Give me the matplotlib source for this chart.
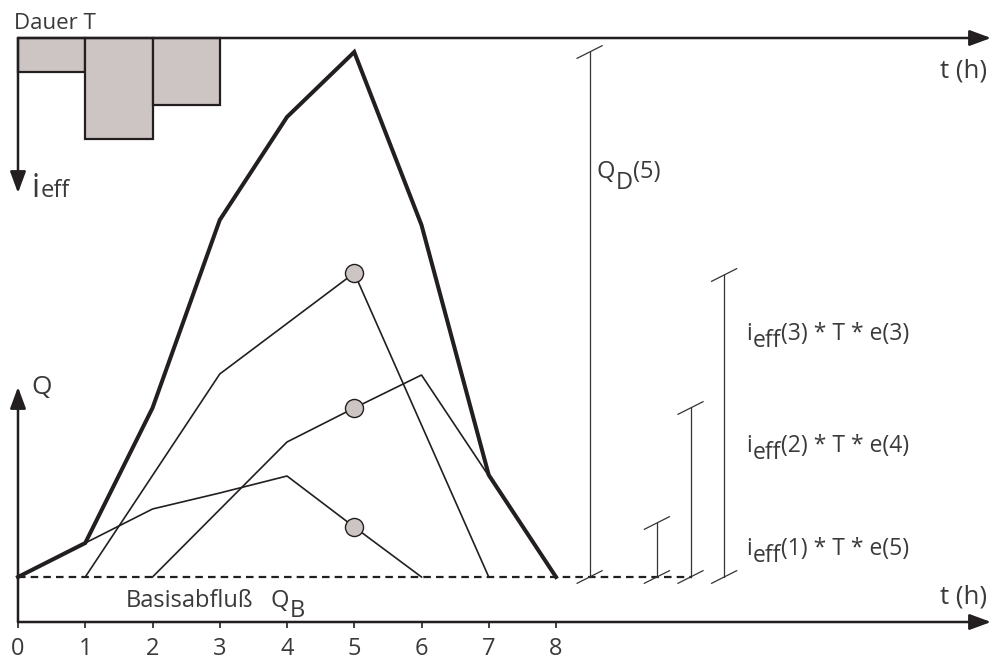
import matplotlib as mpl
mpl.use('Agg')
import matplotlib.pyplot as plt

plt.rcParams['font.family'] = ['Open Sans', 'DejaVu Sans']

# Effektivniederschlag (Blockregen, Dauer T = 1 h)
t_rain = [0, 1, 2]
i_eff = [1, 3, 2]

# Gesamtabfluss ueber Basisabfluss
t_sum = [0, 1, 2, 3, 4, 5, 6, 7, 8]
q_sum = [0, 3.4, 16.9, 35.7, 46.0, 52.5, 35.2, 10.2, 0]

# Teilganglinien der einzelnen Regenbloecke
t_1 = [0, 1, 2, 3, 4, 5, 6]
q_1 = [0, 3.4, 6.8, 8.4, 10.1, 5.0, 0]
t_2 = [1, 3, 5, 7]
q_2 = [0, 20.3, 30.4, 0]
t_3 = [2, 4, 5, 6, 7, 8]
q_3 = [0, 13.5, 16.9, 20.2, 10.1, 0]

# Bemassung bei t = 5
t_qd = 8.5
t_mess = [9.5, 10.0, 10.5]
q_mess = [5.4, 16.9, 30.2]
lab_nr = ['(1) * T * e(5)', '(2) * T * e(4)', '(3) * T * e(3)']
ticks = [0, 1, 2, 3, 4, 5, 6, 7, 8]

W, H = 991, 662
dark = '#231f20'
txt = '#3a3a3a'
grau = '#cdc5c3'

fig = plt.figure(figsize=(W / 100, H / 100), dpi=100)
ax = fig.add_axes([0, 0, 1, 1])
ax.axis('off')
sx = 67.25
ax.set_xlim(-18 / sx, (W - 18) / sx)
ax.set_ylim((577 - H) / 10, 577 / 10)
renderer = fig.canvas.get_renderer()

def py(y):
    return (577 - y) / 10

def arrow(x0, y0, x1, y1):
    ax.annotate('', xy=(x1, y1), xytext=(x0, y0),
                arrowprops=dict(arrowstyle='-|>,head_length=0.65,head_width=0.24',
                                mutation_scale=20, lw=1.8, color=dark,
                                shrinkA=0, shrinkB=0))

def rich(x, y, parts):
    # parts: (text, fontsize, Versatz nach unten in px, Abstand davor in px)
    cur = x
    for s, fs, dy, gap in parts:
        cur += gap
        t = fig.text(cur / W, 1 - (y + dy) / H, s, fontsize=fs, color=txt,
                     va='baseline')
        cur += t.get_window_extent(renderer).width

# Achsen
top = py(38)
arrow(0, top, (W - 18) / sx, top)
arrow(0, top, 0, py(193))
arrow(0, py(622), (W - 18) / sx, py(622))
arrow(0, py(622), 0, py(387))
ax.vlines(ticks, py(622), py(628), color=dark, lw=1.2)
for t in ticks:
    ax.text(t, py(655), str(t), ha='center', va='baseline', fontsize=17, color=txt)

# Niederschlagsbloecke (nach unten)
scale_i = 3.36
ax.bar(t_rain, [-v * scale_i for v in i_eff], bottom=top, width=1, align='edge',
       color=grau, edgecolor=dark, lw=1.6, zorder=2)

# Basisabfluss
ax.plot([0, 10.02], [0, 0], color=dark, lw=1.6, ls=(0, (3.4, 2.3)))

# Ganglinien
ax.plot(t_1, q_1, color=dark, lw=1.2)
ax.plot(t_2, q_2, color=dark, lw=1.2)
ax.plot(t_3, q_3, color=dark, lw=1.2)
ax.plot(t_sum, q_sum, color=dark, lw=2.9, solid_joinstyle='miter')
for tt, qq in [(t_1, q_1), (t_2, q_2), (t_3, q_3)]:
    k = tt.index(5)
    ax.plot(5, qq[k], 'o', ms=13, mfc=grau, mec=dark, mew=1.0, zorder=5)

# Bemassungslinien
dx, dy = 0.186, 0.63
def mass(x, h):
    ax.plot([x, x], [0, h], color='#333333', lw=0.9)
    for y in (0, h):
        ax.plot([x - dx, x + dx], [y - dy, y + dy], color='#333333', lw=0.9)

mass(t_qd, max(q_sum))
for x, h in zip(t_mess, q_mess):
    mass(x, h)

# Beschriftungen
rich(14, 29, [('Dauer T', 16, 0, 0)])
rich(940, 77, [('t (h)', 18.5, 0, 0)])
rich(940, 604, [('t (h)', 18.5, 0, 0)])
rich(31, 197, [('i', 23, 0, 0), ('eff', 17, 0, 1)])
rich(31, 394, [('Q', 19, 0, 0)])
rich(597, 178, [('Q', 17, 0, 0), ('D', 17, 11, 0), ('(5)', 17, 0, 0)])
rich(126, 607, [('Basisabfluß', 17, 0, 0)])
rich(271, 607, [('Q', 17, 0, 0), ('B', 17, 10, 0)])
for lab, yb in zip(lab_nr, [555, 452, 340]):
    rich(746, yb, [('i', 16.5, 0, 0), ('eff', 16.5, 7, 1), (lab, 16.5, 0, 0)])

fig.savefig('out.png', dpi=100)
